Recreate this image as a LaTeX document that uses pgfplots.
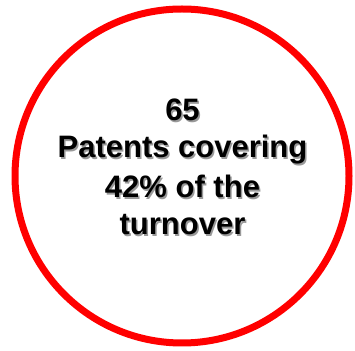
\documentclass[border=0pt]{standalone}
\usepackage{pgfplots}
\pgfplotsset{compat=1.18}
\usepackage{fontspec}
\setmainfont{Liberation Sans}
\tikzset{
  lbl/.style={anchor=base, text=black, inner sep=0pt, font=\bfseries\fontsize{31bp}{38bp}\selectfont},
  shd/.style={anchor=base, text=black!40, inner sep=0pt, font=\bfseries\fontsize{31bp}{38bp}\selectfont},
}
\begin{document}
\begin{tikzpicture}
\begin{axis}[
  scale only axis, width=355bp, height=351bp,
  xmin=0, xmax=355, ymin=0, ymax=351,
  hide axis, clip=false,
]
\path (axis cs:0,0) rectangle (axis cs:355,351);
\draw[red, line width=7bp] (axis cs:182,175) circle [radius=167bp];
\node[shd] at (axis cs:184,228) {65};
\node[shd] at (axis cs:184,191) {Patents covering};
\node[shd] at (axis cs:184,151) {42\% of the};
\node[shd] at (axis cs:184,114) {turnover};
\node[lbl] at (axis cs:182.5,230) {65};
\node[lbl] at (axis cs:182.5,193) {Patents covering};
\node[lbl] at (axis cs:182.5,153) {42\% of the};
\node[lbl] at (axis cs:182.5,116) {turnover};
\end{axis}
\end{tikzpicture}
\end{document}
